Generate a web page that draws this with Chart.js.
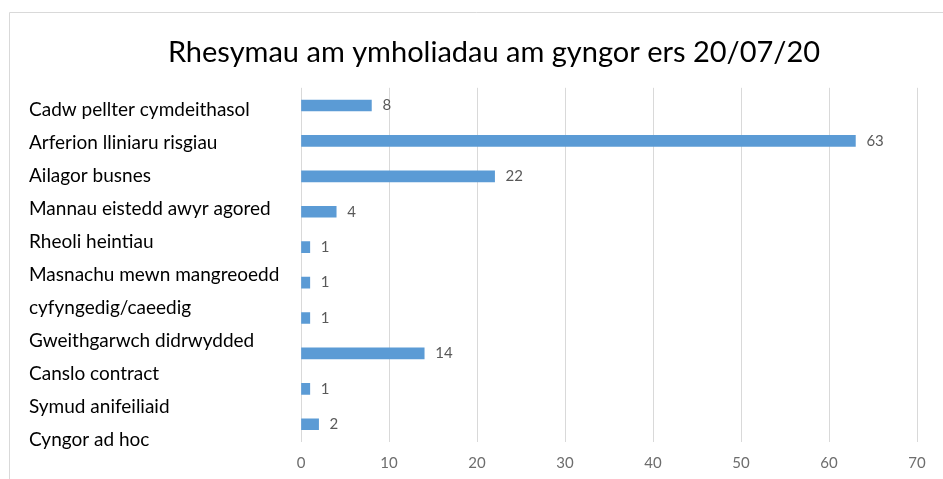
<!DOCTYPE html>
<html>
<head>
<meta charset="utf-8">
<script src="https://cdn.jsdelivr.net/npm/chart.js@4"></script>
<style>
  html, body { margin: 0; padding: 0; background: #fff; }
  #wrap { width: 943px; height: 479px; }
</style>
</head>
<body>
<div id="wrap"><canvas id="chart" width="943" height="479"></canvas></div>
<script>
const categories = [
    'Cadw pellter cymdeithasol',
    'Arferion lliniaru risgiau',
    'Ailagor busnes',
    'Mannau eistedd awyr agored',
    'Rheoli heintiau',
    ['Masnachu mewn mangreoedd', 'cyfyngedig/caeedig'],
    'Gweithgarwch didrwydded',
    'Canslo contract',
    'Symud anifeiliaid',
    'Cyngor ad hoc'
];
const values = [8, 63, 22, 4, 1, 1, 1, 14, 1, 2];
const xTicks = [0, 10, 20, 30, 40, 50, 60, 70];
const titleText = 'Rhesymau am ymholiadau am gyngor ers 20/07/20';

// in the picture the text labels keep their own even spacing, one per line
const labelLines = categories.flat();

const frame = {
    id: 'frame',
    beforeDraw(chart) {
        const ctx = chart.ctx;
        ctx.save();
        ctx.strokeStyle = '#d9d9d9';
        ctx.lineWidth = 1;
        ctx.beginPath();
        ctx.moveTo(9.5, chart.height);
        ctx.lineTo(9.5, 12.5);
        ctx.lineTo(chart.width, 12.5);
        ctx.stroke();
        ctx.restore();
    }
};

const valueLabels = {
    id: 'valueLabels',
    afterDatasetsDraw(chart) {
        const ctx = chart.ctx;
        const meta = chart.getDatasetMeta(0);
        ctx.save();
        ctx.fillStyle = '#595959';
        ctx.font = '15px Lato';
        ctx.textAlign = 'left';
        ctx.textBaseline = 'middle';
        meta.data.forEach((bar, i) => {
            ctx.fillText(values[i], bar.x + 11, bar.y);
        });
        ctx.restore();
    }
};

// title is centred a bit right of the canvas middle
const shiftTitle = {
    id: 'shiftTitle',
    afterLayout(chart) {
        chart.titleBlock.left += 21;
        chart.titleBlock.right += 21;
    }
};

new Chart(document.getElementById('chart').getContext('2d'), {
    type: 'bar',
    data: {
        labels: categories,
        datasets: [{
            data: values,
            backgroundColor: '#5b9bd5',
            borderWidth: 0,
            barThickness: 11
        }]
    },
    options: {
        indexAxis: 'y',
        responsive: false,
        animation: false,
        layout: { padding: { left: 29, right: 26, top: 0, bottom: -5 } },
        scales: {
            x: {
                min: 0,
                max: 70,
                afterBuildTicks: (scale) => { scale.ticks = xTicks.map(v => ({ value: v })); },
                grid: { color: '#d9d9d9', drawTicks: false, tickLength: 0 },
                border: { display: false },
                ticks: { color: '#6d6d6d', font: { family: 'Lato', size: 15 }, padding: 12 }
            },
            y: {
                display: false
            },
            labels: {
                type: 'linear',
                position: 'left',
                offset: false,
                reverse: true,
                min: -0.667,
                max: 10.06,
                afterBuildTicks: (scale) => { scale.ticks = labelLines.map((_, i) => ({ value: i })); },
                afterFit: (scale) => { scale.width = 272; },
                grid: { display: false },
                border: { display: false },
                ticks: {
                    crossAlign: 'far',
                    color: '#000',
                    font: { family: 'Lato', size: 19 },
                    callback: (v) => labelLines[v]
                }
            }
        },
        plugins: {
            legend: { display: false },
            tooltip: { enabled: false },
            title: {
                display: true,
                text: titleText,
                color: '#000',
                font: { family: 'Lato', size: 29, weight: 'normal' },
                padding: { top: 35, bottom: 18 }
            }
        }
    },
    plugins: [frame, valueLabels, shiftTitle]
});
</script>
</body>
</html>
